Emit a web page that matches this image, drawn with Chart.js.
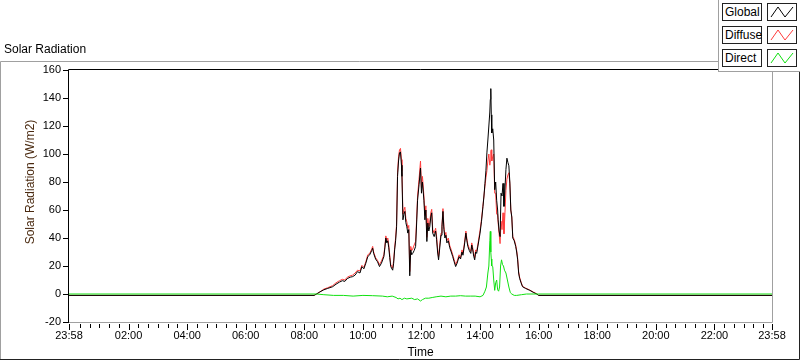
<!DOCTYPE html>
<html>
<head>
<meta charset="utf-8">
<script src="https://cdn.jsdelivr.net/npm/chart.js@4"></script>
<style>
  body { margin: 0; background: #fff; font-family: "Liberation Sans", Arial, sans-serif; }
  #wrap { position: relative; width: 800px; height: 361px; overflow: hidden; }
  #solar { position: absolute; display: block; left: 0; top: 0; }
  #graphLabel { position: absolute; left: 4px; top: 42px; font-size: 12px; color: #000; }
  #legend { position: absolute; left: 718px; top: 0; width: 82px; height: 71px; background: #fff;
            border-left: 1px solid #a0a0a0; border-bottom: 1px solid #a0a0a0; }
  .row { position: absolute; left: 3px; height: 18px; }
  .name { position: absolute; left: 0; top: 0; width: 36px; height: 16px; border: 1px solid #222;
          font-size: 12px; line-height: 16px; padding-left: 2px; background: #fff; }
  .icon { position: absolute; left: 45px; top: 0; width: 28px; height: 16px; border: 1px solid #222; background: #fff; }
</style>
</head>
<body>
<div id="wrap">
  <canvas id="solar" width="800" height="361"></canvas>
  <div id="graphLabel">Solar Radiation</div>
  <div id="legend"></div>
</div>
<script>
// minutes after midnight, axis runs from 23:58 the day before to 23:58
const minutes = [-2, 500, 505, 512, 520, 528, 538, 545, 552, 558, 563, 568, 574, 579, 584, 589, 594, 598,
  602, 606, 610, 614, 618, 620, 622, 626, 630, 634, 638, 643, 645, 647, 649, 651, 653, 655, 657, 661, 663,
  665, 667, 669, 671, 673, 675, 677, 679, 680, 682, 684, 686, 688, 690, 692, 694, 696, 698, 700, 702, 705,
  708, 710, 712, 715, 718, 720, 722, 725, 727, 729, 731, 733, 735, 737, 739, 741, 743, 746, 749, 751, 753,
  755, 758, 760, 762, 764, 766, 768, 770, 772, 775, 778, 781, 784, 787, 790, 793, 797, 800, 803, 805, 808,
  811, 813, 815, 818, 821, 823, 825, 827, 829, 831, 833, 836, 840, 843, 846, 848, 850, 852, 854, 856, 858,
  860, 861, 862, 863, 864, 866, 868, 870, 872, 874, 876, 877, 879, 881, 883, 885, 887, 889, 891, 893, 895,
  897, 899, 901, 903, 905, 907, 910, 913, 915, 917, 919, 921, 924, 927, 933, 942, 950, 956, 960, 1438];

const globalValues = [-1, -1, 0, 1.5, 3, 4, 5.2, 7, 8.5, 9.5, 9, 11, 12, 12.4, 13.5, 16, 15, 19.5,
  18, 22, 26.7, 28, 31, 32.7, 29, 25, 23, 19.6, 22, 26.7, 33, 40, 36.5, 38, 33, 26, 19.6, 17, 22,
  31.5, 38, 48, 84, 95, 100.8, 101.5, 92, 84, 53, 57, 59, 51, 48, 43.5, 46, 13, 31.5, 28, 29, 31,
  34, 50, 67, 78, 90, 72, 80, 67, 53, 60, 37.5, 50.7, 45, 48, 55, 58, 43.5, 41, 45, 38.7, 30,
  24.4, 35, 42, 48, 59, 46, 40, 42, 36.5, 38, 33, 30, 26.7, 23, 19.6, 22, 26.7, 25, 30, 27.7, 35,
  43.5, 38, 34, 31, 29, 35, 31.5, 27, 24.4, 30, 29, 35, 43.5, 52, 62.6, 70, 79, 88, 100.8, 110, 120,
  130, 139, 146.7, 128, 115, 118, 110, 74.5, 80, 67, 60, 53, 45, 41, 72, 70, 79, 62.6, 75, 88.9, 97,
  94, 91.6, 80, 60, 55, 40, 38, 34, 30, 24.4, 15, 11.2, 8, 5.2, 4, 2.6, 1, 0, -1, -1];

const diffuseValues = [-1, -1, 0, 1.5, 3.5, 4.5, 6, 8, 9.5, 10.5, 10, 12, 13, 13.5, 15, 17, 16.5, 20.5,
  19, 23, 28, 29, 32, 34, 30, 26, 24, 21, 23.5, 28, 34, 41.5, 38, 40, 35, 28, 21, 18.5, 24,
  33, 40, 50, 87, 98, 103, 104, 96, 88, 57, 60, 62, 54, 51.5, 47, 49, 16, 34, 31, 32, 35,
  37.5, 53, 70, 82, 95, 76, 84, 70, 56, 63, 40.5, 54, 48, 51, 58, 60.5, 46, 43.5, 47, 41, 32,
  26.5, 37, 43.5, 49.5, 61, 48, 42, 44, 38, 40, 34.5, 31.5, 28, 24.5, 21, 23.5, 28, 26, 31.5, 29, 36.5,
  45, 39.5, 35.5, 32.5, 30.5, 36.5, 33, 28.5, 26, 31.5, 30.5, 36.5, 45.5, 53.5, 63.5, 70, 77, 83, 88, 95, 100,
  92, 95, 102, 103, 95, 98, 100, 72, 72, 57, 57, 51, 43, 36, 52, 46, 58, 43, 58, 74, 82,
  85, 86.6, 79, 60, 55, 41, 39, 35, 31, 25.5, 16, 12, 8.5, 5.5, 4.3, 2.8, 1.2, 0.2, -1, -1];

const directMinutes = [-2, 505, 520, 540, 560, 580, 600, 620, 640, 650, 660, 668, 672, 676, 680, 685, 690,
  700, 706, 712, 718, 722, 728, 735, 742, 750, 760, 770, 780, 790, 800, 810, 820, 830, 840, 846, 850,
  853, 856, 858, 860, 861, 862, 863, 864, 866, 868, 870, 872, 874, 876, 878, 880, 882, 884, 886, 888,
  890, 893, 896, 899, 902, 905, 910, 915, 925, 935, 960, 1438];

const directValues = [0, 0, -0.5, -1, -1, -1.5, -1, -1.2, -1.5, -2, -1.5, -2.5, -3.5, -3, -4, -3, -3.5,
  -3, -4, -3.5, -5, -4, -3, -3, -2.5, -2, -1.5, -2, -1.5, -1.5, -1.2, -1.5, -1.5, -1.5, -2, -1, 2,
  5, 15, 20, 38, 44.7, 30, 25, 20, 19.6, 10, 2.6, 8, 10, 3, 2, 5, 20, 24.4, 21, 20,
  17, 15, 10, 5, 1, 0, -1, -1, -0.5, 0, 0, 0];

const tickMinutes = [-2, 120, 240, 360, 480, 600, 720, 840, 960, 1080, 1200, 1320, 1438];
const tickLabels = ['23:58', '02:00', '04:00', '06:00', '08:00', '10:00', '12:00', '14:00', '16:00',
  '18:00', '20:00', '22:00', '23:58'];

const seriesNames = ['Global', 'Diffuse', 'Direct'];
const seriesColors = ['#000000', '#ff3c3c', '#10e010'];

const FONT = '"Liberation Sans", Arial, sans-serif';

// legend boxes like the LabVIEW plot legend
const legend = document.getElementById('legend');
seriesNames.forEach((name, i) => {
  const row = document.createElement('div');
  row.className = 'row';
  row.style.top = (3 + i * 23) + 'px';
  row.innerHTML = '<div class="name">' + name + '</div>' +
    '<div class="icon"><svg width="28" height="16"><polyline points="3,13 10,3 17,13 25,3" fill="none" stroke="' +
    seriesColors[i] + '" stroke-width="1"/></svg></div>';
  legend.appendChild(row);
});

const framePlugin = {
  id: 'frame',
  afterDraw(chart) {
    const ctx = chart.ctx;
    const { left, right, top, bottom } = chart.chartArea;
    const xs = chart.scales.x;
    ctx.save();
    ctx.lineWidth = 1;

    // outer graph frame
    ctx.strokeStyle = '#a0a0a0';
    ctx.beginPath();
    ctx.moveTo(0.5, 360); ctx.lineTo(0.5, 61.5); ctx.lineTo(718, 61.5);
    ctx.stroke();
    ctx.strokeStyle = '#222';
    ctx.beginPath();
    ctx.moveTo(0, 359.5); ctx.lineTo(799.5, 359.5); ctx.lineTo(799.5, 72);
    ctx.stroke();

    // plot frame
    ctx.strokeStyle = '#a0a0a0';
    ctx.beginPath();
    ctx.moveTo(left, bottom + 0.5); ctx.lineTo(right + 0.5, bottom + 0.5); ctx.lineTo(right + 0.5, top);
    ctx.stroke();
    ctx.strokeStyle = '#000';
    ctx.beginPath();
    ctx.moveTo(left - 0.5, bottom); ctx.lineTo(left - 0.5, top - 0.5); ctx.lineTo(right, top - 0.5);
    ctx.stroke();

    // time ticks, long at the labels, short every 20 minutes
    ctx.strokeStyle = '#000';
    ctx.beginPath();
    for (let m = 20; m < 1438; m += 20) {
      const x = Math.round(xs.getPixelForValue(m)) + 0.5;
      ctx.moveTo(x, bottom + 2); ctx.lineTo(x, bottom + 6);
    }
    tickMinutes.forEach(m => {
      const x = Math.round(xs.getPixelForValue(m)) + 0.5;
      ctx.moveTo(x, bottom + 2); ctx.lineTo(x, bottom + 8);
    });
    ctx.stroke();

    // y axis title
    ctx.fillStyle = '#4a2a10';
    ctx.font = '12px ' + FONT;
    ctx.textAlign = 'center';
    ctx.textBaseline = 'middle';
    ctx.translate(31, 182);
    ctx.rotate(-Math.PI / 2);
    ctx.fillText('Solar Radiation (W/m2)', 0, 0);
    ctx.restore();
  }
};

const toPoints = (xsArr, ysArr) => xsArr.map((m, i) => ({ x: m, y: ysArr[i] }));

new Chart(document.getElementById('solar').getContext('2d'), {
  type: 'line',
  data: {
    datasets: [
      { label: seriesNames[0], data: toPoints(minutes, globalValues), borderColor: seriesColors[0], order: 1 },
      { label: seriesNames[1], data: toPoints(minutes, diffuseValues), borderColor: seriesColors[1], order: 2 },
      { label: seriesNames[2], data: toPoints(directMinutes, directValues), borderColor: seriesColors[2], order: 0 }
    ]
  },
  options: {
    responsive: false,
    animation: false,
    devicePixelRatio: 1,
    layout: { padding: { top: 70, right: 28, bottom: 0, left: 0 } },
    elements: {
      line: { borderWidth: 1, tension: 0, fill: false },
      point: { radius: 0 }
    },
    plugins: { legend: { display: false }, tooltip: { enabled: false } },
    scales: {
      x: {
        type: 'linear',
        min: -2,
        max: 1438,
        afterFit(scale) { scale.height = 39; },
        afterBuildTicks(scale) { scale.ticks = tickMinutes.map(v => ({ value: v })); },
        grid: { display: false, drawTicks: false },
        border: { display: false },
        ticks: {
          autoSkip: false,
          maxRotation: 0,
          padding: 7,
          color: '#000',
          font: { family: FONT, size: 11 },
          callback: (v) => tickLabels[tickMinutes.indexOf(v)]
        },
        title: {
          display: true,
          text: 'Time',
          color: '#000',
          font: { family: FONT, size: 12 },
          padding: { top: 0, bottom: 1 }
        }
      },
      y: {
        min: -20,
        max: 160,
        afterFit(scale) { scale.width = 69; },
        grid: { drawOnChartArea: false, drawTicks: true, tickLength: 6, color: '#000' },
        border: { display: false },
        ticks: {
          stepSize: 20,
          padding: 2,
          color: '#000',
          font: { family: FONT, size: 11 }
        }
      }
    }
  },
  plugins: [framePlugin]
});
</script>
</body>
</html>
